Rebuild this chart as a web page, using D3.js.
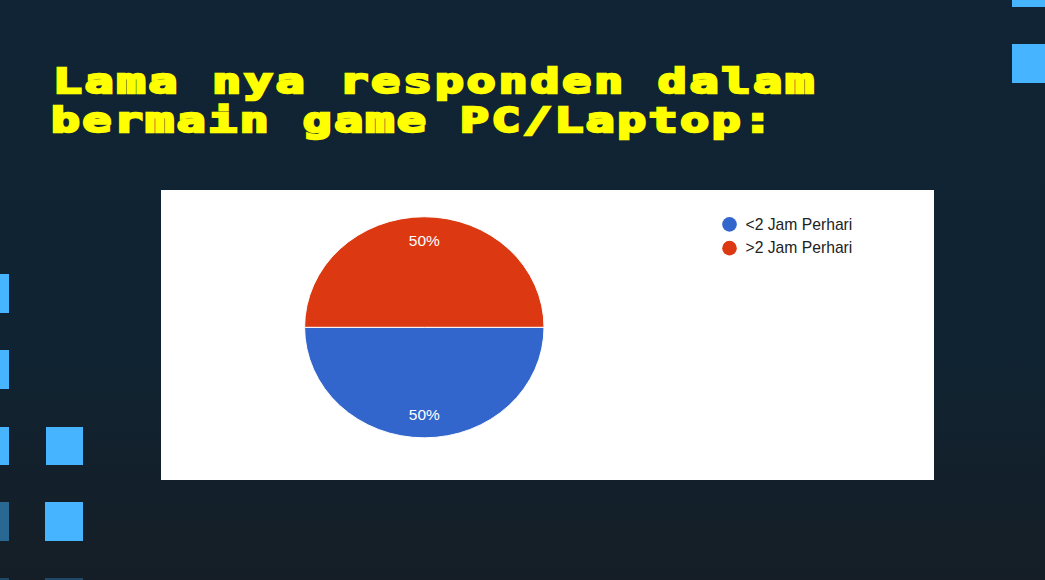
<!DOCTYPE html>
<html>
<head>
<meta charset="utf-8">
<script src="https://cdn.jsdelivr.net/npm/d3@7"></script>
<style>
  html, body { margin: 0; padding: 0; background: #10232f; }
  svg { display: block; }
</style>
</head>
<body>
<svg id="chart" width="1045" height="580"></svg>
<script>
const titleLines = ["Lama nya responden dalam", "bermain game PC/Laptop:"];
const categories = ["<2 Jam Perhari", ">2 Jam Perhari"];
const values = [50, 50];
const colors = ["#3366cc", "#dc3912"];

const W = 1045, H = 580;
const svg = d3.select("#chart");
const defs = svg.append("defs");
const grad = defs.append("linearGradient").attr("id", "bg").attr("x1", 0).attr("y1", 0).attr("x2", 0).attr("y2", 1);
grad.append("stop").attr("offset", "0%").attr("stop-color", "#102435");
grad.append("stop").attr("offset", "60%").attr("stop-color", "#102332");
grad.append("stop").attr("offset", "100%").attr("stop-color", "#151e26");
svg.append("rect").attr("width", W).attr("height", H).attr("fill", "url(#bg)");

// decorative squares
const deco = [
  [1012, 0, 33, 7, "#47b4ff"], [1012, 44, 33, 39, "#47b4ff"],
  [0, 274, 9, 39, "#47b4ff"], [0, 350, 9, 39, "#47b4ff"], [0, 427, 9, 38, "#47b4ff"],
  [46, 427, 37, 38, "#47b4ff"], [0, 502, 9, 39, "#2a6894"], [45, 502, 38, 39, "#47b4ff"],
  [0, 578, 9, 2, "#1f4868"], [45, 578, 38, 2, "#1f4868"]
];
svg.selectAll("rect.deco").data(deco).enter().append("rect").attr("class", "deco")
  .attr("x", d => d[0]).attr("y", d => d[1]).attr("width", d => d[2]).attr("height", d => d[3]).attr("fill", d => d[4]);

// title (wide, chunky monospace to echo the pixel font)
const sx = 1.45;
const titleX = [53, 51], titleY = [93, 132], titleLen = [761, 721];
svg.selectAll("text.title").data(titleLines).enter().append("text").attr("class", "title")
  .attr("transform", (d, i) => `translate(${titleX[i]},${titleY[i]}) scale(${sx},1)`)
  .attr("textLength", (d, i) => titleLen[i] / sx).attr("lengthAdjust", "spacing")
  .attr("font-family", "DejaVu Sans Mono, monospace").attr("font-weight", "bold")
  .attr("font-size", 33).attr("fill", "#ffff00").attr("stroke", "#ffff00")
  .attr("stroke-width", 2.4).attr("stroke-linejoin", "miter")
  .text(d => d);

// white panel
svg.append("rect").attr("x", 161).attr("y", 190).attr("width", 773).attr("height", 290).attr("fill", "#ffffff");

// pie
const cx = 424.3, cy = 327.3, rx = 119.7, ry = 110.5;
const pie = d3.pie().sort(null).startAngle(Math.PI / 2).endAngle(Math.PI / 2 + 2 * Math.PI);
const arcs = pie(values);
const arc = d3.arc().innerRadius(0).outerRadius(rx);
const g = svg.append("g").attr("transform", `translate(${cx},${cy}) scale(1,${ry / rx})`);
g.selectAll("path").data(arcs).enter().append("path")
  .attr("d", arc).attr("fill", (d, i) => colors[i])
  .attr("stroke", "#ffffff").attr("stroke-width", 1);

const total = d3.sum(values);
const labelArc = d3.arc().innerRadius(rx * 0.79).outerRadius(rx * 0.79);
svg.selectAll("text.pl").data(arcs).enter().append("text").attr("class", "pl")
  .attr("x", d => cx + labelArc.centroid(d)[0])
  .attr("y", d => cy + labelArc.centroid(d)[1] * ry / rx + 5.5)
  .attr("text-anchor", "middle").attr("font-family", "Liberation Sans, Arial, sans-serif")
  .attr("font-size", 15.5).attr("fill", "#ffffff")
  .text(d => Math.round(d.data / total * 100) + "%");

// legend
const ly = d3.scaleBand().domain(categories).range([212.5, 260]);
const leg = svg.selectAll("g.leg").data(categories).enter().append("g").attr("class", "leg")
  .attr("transform", d => `translate(729.5,${ly(d) + ly.bandwidth() / 2})`);
leg.append("circle").attr("r", 7.3).attr("fill", (d, i) => colors[i]);
leg.append("text").attr("x", 16).attr("y", 5.3).attr("font-family", "Liberation Sans, Arial, sans-serif")
  .attr("font-size", 15.7).attr("fill", "#222222").text(d => d);
</script>
</body>
</html>
